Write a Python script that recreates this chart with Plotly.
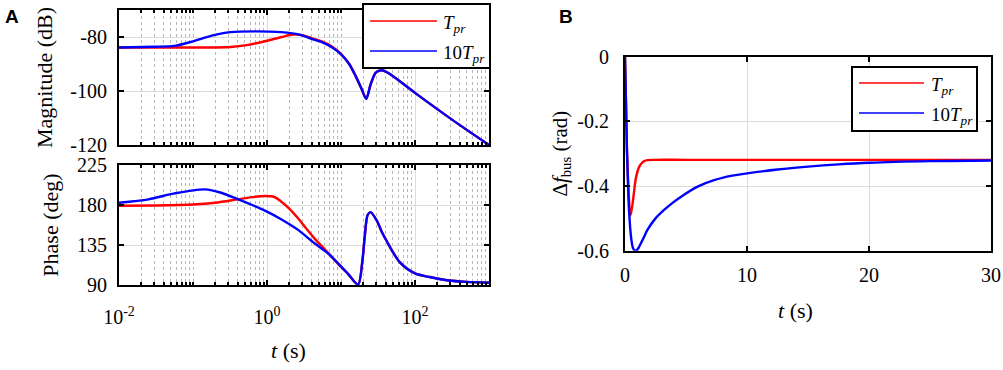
import plotly.graph_objects as go

# ---------------- data ----------------
# Panel A, magnitude (dB)
mag_f_10T = [0.01, 0.03, 0.056, 0.1, 0.18, 0.32, 0.68, 1.55, 2.75, 4.0, 5.6, 7.6,
             10, 12.9, 15.8, 19.1, 21.9, 25.1, 29.5, 35.5, 44.7, 100, 316, 1000]
mag_10T = [-83.9, -83.6, -83.3, -81.6, -79.5, -78.2, -77.9, -78.2, -79.1, -80.7, -82.0, -83.9,
           -86.4, -90.0, -94.5, -99.4, -102.9, -97.6, -93.2, -92.3, -93.5, -100.7, -110.6, -120.0]

mag_f_T = [0.01, 0.1, 0.32, 0.56, 1.0, 1.58, 2.24, 3.0, 4.0, 5.6, 7.6, 10,
           12.9, 15.8, 19.1, 21.9, 25.1, 29.5, 35.5, 44.7, 100, 316, 1000]
mag_T = [-83.9, -83.9, -83.7, -82.9, -81.4, -80.0, -79.1, -79.3, -80.4, -81.7, -83.6, -86.2,
         -90.0, -94.5, -99.4, -102.9, -97.6, -93.2, -92.3, -93.5, -100.7, -110.6, -120.0]

# Panel A, phase (deg)
ph_f_10T = [0.01, 0.0251, 0.0562, 0.1445, 0.24, 0.407, 0.631, 1.0, 1.55, 2.63, 4.37, 6.61,
            10, 12.6, 17.0, 19.5, 20.9, 22.9, 25.1, 30.2, 35.5, 40.7, 61.7, 100, 158, 288, 501, 1000]
ph_10T = [182.6, 186.4, 193.0, 197.6, 193.8, 186.4, 180.0, 172.5, 164.0, 152.0, 137.0, 126.0,
          111.0, 102.0, 90.5, 118.0, 144.0, 168.8, 172.0, 163.0, 150.0, 140.6, 116.0, 103.0, 99.0, 95.0, 93.5, 92.6]

ph_f_T = [0.01, 0.0316, 0.1, 0.2, 0.407, 0.631, 0.933, 1.26, 1.55, 2.0, 2.63, 3.39, 4.37,
          5.75, 7.41, 9.55, 12.3, 17.0, 19.5, 20.9, 22.9, 25.1, 30.2, 35.5, 40.7, 61.7, 100, 158, 288, 501, 1000]
ph_T = [179.2, 179.5, 180.5, 182.5, 186.4, 188.8, 190.1, 189.0, 184.0, 176.0, 165.0, 153.5, 142.5,
        132.0, 121.9, 112.0, 103.0, 90.5, 118.0, 144.0, 168.8, 172.0, 163.0, 150.0, 140.6, 116.0, 103.0, 99.0, 95.0, 93.5, 92.6]

# Panel B, time response
t_T = [0, 0.08, 0.16, 0.25, 0.33, 0.43, 0.52, 0.62, 0.76, 0.90, 1.17, 1.40, 1.58, 1.85, 2.5, 5, 10, 20, 30]
df_T = [0, -0.14, -0.289, -0.38, -0.443, -0.491, -0.478, -0.455, -0.412, -0.374, -0.34, -0.328,
        -0.323, -0.32, -0.319, -0.319, -0.319, -0.319, -0.319]

t_10T = [0, 0.08, 0.16, 0.25, 0.33, 0.49, 0.66, 0.82, 1.0, 1.17, 1.5, 1.85, 2.5, 3.2, 3.9, 4.6,
         5.95, 7.3, 8.8, 10, 12.5, 15, 17.5, 20, 25, 30]
df_10T = [0, -0.14, -0.289, -0.40, -0.474, -0.556, -0.592, -0.6, -0.597, -0.587, -0.562, -0.535,
          -0.500, -0.474, -0.452, -0.433, -0.402, -0.382, -0.368, -0.361, -0.349, -0.340,
          -0.333, -0.328, -0.323, -0.321]

series_names = ["<i>T</i><sub><i>pr</i></sub>", "10<i>T</i><sub><i>pr</i></sub>"]
series_colors = ["#ff0000", "#0000ff"]

mag_ticks = [-120, -100, -80]
ph_ticks = [90, 135, 180, 225]
logx_ticks = [0.01, 1, 100]
logx_text = ["10<sup>-2</sup>", "10<sup>0</sup>", "10<sup>2</sup>"]
b_xticks = [0, 10, 20, 30]
b_yticks = [-0.6, -0.4, -0.2, 0]

# ---------------- figure ----------------
FONT = "Liberation Serif"
W, H = 1003, 370

fig = go.Figure()
LW = 2.4

fig.add_trace(go.Scatter(x=mag_f_T, y=mag_T, mode="lines", name=series_names[0], showlegend=False,
                         line=dict(color=series_colors[0], width=LW, shape="spline", smoothing=0.8),
                         xaxis="x", yaxis="y"))
fig.add_trace(go.Scatter(x=mag_f_10T, y=mag_10T, mode="lines", name=series_names[1], showlegend=False,
                         line=dict(color=series_colors[1], width=LW, shape="spline", smoothing=0.8),
                         xaxis="x", yaxis="y"))
fig.add_trace(go.Scatter(x=ph_f_T, y=ph_T, mode="lines", name=series_names[0], showlegend=False,
                         line=dict(color=series_colors[0], width=LW, shape="spline", smoothing=0.8),
                         xaxis="x2", yaxis="y2"))
fig.add_trace(go.Scatter(x=ph_f_10T, y=ph_10T, mode="lines", name=series_names[1], showlegend=False,
                         line=dict(color=series_colors[1], width=LW, shape="spline", smoothing=0.8),
                         xaxis="x2", yaxis="y2"))
fig.add_trace(go.Scatter(x=t_T, y=df_T, mode="lines", name=series_names[0], showlegend=False,
                         line=dict(color=series_colors[0], width=LW, shape="spline", smoothing=1.0),
                         xaxis="x3", yaxis="y3"))
fig.add_trace(go.Scatter(x=t_10T, y=df_10T, mode="lines", name=series_names[1], showlegend=False,
                         line=dict(color=series_colors[1], width=LW, shape="spline", smoothing=1.0),
                         xaxis="x3", yaxis="y3"))

minor_vals = []
for k in range(-2, 3):
    for m in range(2, 10):
        minor_vals.append(m * 10 ** k)
minor_vals += [0.1, 10, 1000]

titlefont = dict(family=FONT, size=22, color="black")
GRID = "#dcdcdc"

common = dict(showline=True, linecolor="black", linewidth=2, mirror="ticks",
              ticks="inside", ticklen=5, tickwidth=1.5, tickcolor="black",
              showgrid=True, gridcolor=GRID, gridwidth=1, zeroline=False,
              automargin=False)

xA = [119 / W, 489 / W]
xB = [625 / W, 991 / W]

logx_common = dict(common, type="log", range=[-2, 3], tickmode="array",
                   tickvals=logx_ticks, ticktext=logx_text,
                   minor=dict(tickmode="array", tickvals=minor_vals, showgrid=True,
                              griddash="dot", gridcolor="#b8b8b8", gridwidth=1,
                              ticks="inside", ticklen=3, tickcolor="black"))


def px_x(p):
    return p / W


def px_y(p):
    return 1 - p / H


# custom legends (long sample lines as in the reference)
shapes = []
annotations = []
legend_boxes = [
    dict(box=(363, 4, 490, 68), lx=(370, 437), ly=(21, 51), tx=441),
    dict(box=(852, 67, 977, 131), lx=(859, 924), ly=(83, 113), tx=929),
]
for lg in legend_boxes:
    x0, y0, x1, y1 = lg["box"]
    shapes.append(dict(type="rect", xref="paper", yref="paper",
                       x0=px_x(x0), x1=px_x(x1), y0=px_y(y1), y1=px_y(y0),
                       fillcolor="white", line=dict(color="black", width=2), layer="above"))
    for name, color, ly in zip(series_names, series_colors, lg["ly"]):
        shapes.append(dict(type="line", xref="paper", yref="paper",
                           x0=px_x(lg["lx"][0]), x1=px_x(lg["lx"][1]),
                           y0=px_y(ly), y1=px_y(ly),
                           line=dict(color=color, width=1.5), layer="above"))
        annotations.append(dict(text=name, x=px_x(lg["tx"]), y=px_y(ly + 3),
                                xref="paper", yref="paper", showarrow=False,
                                xanchor="left", yanchor="middle",
                                font=dict(family=FONT, size=19, color="black")))

annotations += [
    dict(text="<i>t</i> (s)", x=288 / W, y=1 - 350 / H, xref="paper", yref="paper",
         showarrow=False, font=titlefont, xanchor="center", yanchor="middle"),
    dict(text="<i>t</i> (s)", x=795 / W, y=1 - 310 / H, xref="paper", yref="paper",
         showarrow=False, font=titlefont, xanchor="center", yanchor="middle"),
    dict(text="<b>A</b>", x=3 / W, y=1 - 16 / H, xref="paper", yref="paper",
         showarrow=False, xanchor="left", yanchor="middle",
         font=dict(family="Liberation Sans", size=19, color="black")),
    dict(text="<b>B</b>", x=557 / W, y=1 - 16 / H, xref="paper", yref="paper",
         showarrow=False, xanchor="left", yanchor="middle",
         font=dict(family="Liberation Sans", size=19, color="black")),
]

fig.update_layout(
    template="none",
    width=W, height=H,
    margin=dict(l=0, r=0, t=0, b=0),
    paper_bgcolor="white", plot_bgcolor="white",
    font=dict(family=FONT, size=20, color="black"),
    showlegend=False,
    xaxis=dict(logx_common, domain=xA, anchor="y", showticklabels=False),
    yaxis=dict(common, domain=[1 - 145 / H, 1 - 10 / H], anchor="x", range=[-120, -70],
               tickmode="array", tickvals=mag_ticks, ticktext=[str(v) for v in mag_ticks],
               ticklabelstandoff=6,
               title=dict(text="Magnitude (dB)", font=titlefont, standoff=12)),
    xaxis2=dict(logx_common, domain=xA, anchor="y2", ticklabelstandoff=13),
    yaxis2=dict(common, domain=[1 - 285 / H, 1 - 165 / H], anchor="x2", range=[90, 225],
                tickmode="array", tickvals=ph_ticks, ticktext=[str(v) for v in ph_ticks],
                ticklabelstandoff=6,
                title=dict(text="Phase (deg)", font=titlefont, standoff=12)),
    xaxis3=dict(common, domain=xB, anchor="y3", range=[0, 30], tickmode="array",
                tickvals=b_xticks, ticktext=[str(v) for v in b_xticks], ticklabelstandoff=5),
    yaxis3=dict(common, domain=[1 - 250.7 / H, 1 - 56.7 / H], anchor="x3", range=[-0.6, 0],
                tickmode="array", tickvals=b_yticks,
                ticktext=["-0.6", "-0.4", "-0.2", "0"], ticklabelstandoff=10,
                title=dict(text="Δ<i>f</i><sub>bus</sub> (rad)",
                           font=dict(family=FONT, size=21, color="black"), standoff=4)),
    shapes=shapes,
    annotations=annotations,
)
fig.update_xaxes(tickfont=dict(family=FONT, size=20, color="black"))
fig.update_yaxes(tickfont=dict(family=FONT, size=20, color="black"))

fig.write_html("out.html", config={"displayModeBar": False},
               post_script="document.body.style.margin='0px';")
